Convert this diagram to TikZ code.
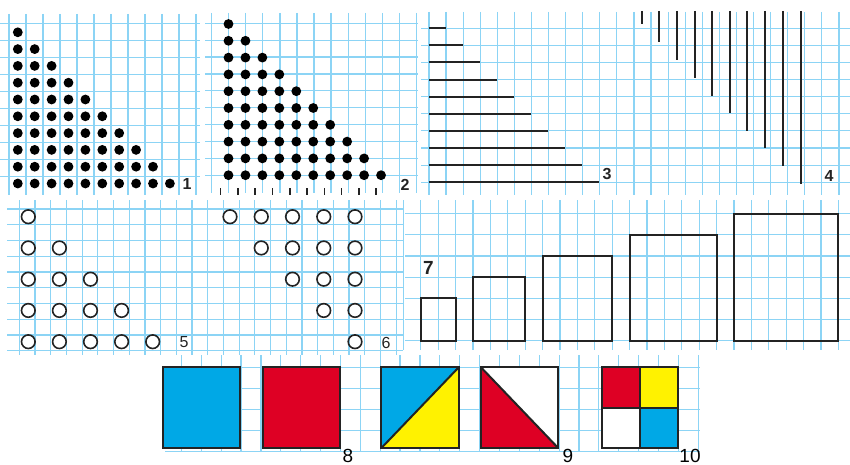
\documentclass[tikz,border=0pt]{standalone}
\usepackage{fontspec}
\setmainfont{Liberation Sans}
\definecolor{gridblue}{RGB}{140,212,245}
\definecolor{ink}{RGB}{35,35,35}
\definecolor{fillblue}{RGB}{0,168,230}
\definecolor{fillred}{RGB}{222,0,36}
\definecolor{fillyellow}{RGB}{255,242,0}
\begin{document}
\begin{tikzpicture}[x=1pt,y=-1pt,
  gridline/.style={draw=gridblue,line width=1.2pt},
  bar/.style={draw=ink,line width=2pt},
  tick/.style={draw=ink,line width=1.6pt},
  ring/.style={draw=ink,line width=1.6pt},
  frame/.style={draw=ink,line width=2pt,line join=miter},
  labb/.style={font=\fontsize{16}{16}\selectfont\bfseries,text=ink,inner sep=0pt},
  labr/.style={font=\fontsize{16}{16}\selectfont,text=ink,inner sep=0pt},
  labbig/.style={font=\fontsize{19}{19}\selectfont,text=black,inner sep=0pt}]
\useasboundingbox (0,0) rectangle (850,465);

% ---------- panel 1 ----------
\foreach \k in {0,...,11} \draw[gridline] ({9+17*\k},14) -- ({9+17*\k},195);
\foreach \k in {0,...,9} \draw[gridline] (0,{23.3+17*\k}) -- (200,{23.3+17*\k});
\foreach \i in {0,...,9} \foreach \j in {0,...,\i}
  \fill[black] ({17.8+16.9*\j},{32.3+16.8*\i}) circle (4.9pt);
\node[labb] (l1) at (187,184) {1};

% ---------- panel 2 ----------
\foreach \k in {0,...,12} \draw[gridline] ({211.7+17.05*\k},13) -- ({211.7+17.05*\k},193);
\foreach \k in {0,...,9} \draw[gridline] (205,{23.3+16.9*\k}) -- (418,{23.3+16.9*\k});
\foreach \i in {0,...,9} \foreach \j in {0,...,\i}
  \fill[black] ({228.5+16.95*\j},{24+16.8*\i}) circle (4.9pt);
\foreach \k in {0,...,9} \draw[tick] ({220.5+17.3*\k},188) -- ++(0,7);
\node[labb] (l2) at (405,185) {2};

% ---------- panels 3 and 4 ----------
\foreach \k in {0,...,24} \draw[gridline] ({429+17.08*\k},12) -- ({429+17.08*\k},195);
\foreach \k in {0,...,9} \draw[gridline] (421,{28.3+17.1*\k}) -- (850,{28.3+17.1*\k});
\foreach \i in {1,...,10} \draw[bar] (429,{28.3+17.08*(\i-1)}) -- ++({17.02*\i},0);
\foreach \x/\y in {642.3/24,659.3/42.3,677/60,695/78.3,712.3/95.7,729.7/113.3,747.3/130.7,765/148.3,782.7/166,800.7/184}
  \draw[bar] (\x,11) -- (\x,\y);
\node[labb] (l3) at (607,174.5) {3};
\node[labb] (l4) at (829,175.5) {4};

% ---------- panels 5 and 6 ----------
\foreach \k in {0,...,24} \draw[gridline] ({19.3+15.7*\k},200) -- ({19.3+15.7*\k},355);
\foreach \k in {0,...,9} \draw[gridline] (7,{209+15.75*\k}) -- (403,{209+15.75*\k});
\foreach \i in {0,...,4} \foreach \j in {0,...,\i}
  \draw[ring] ({28.3+31.1*\j},{216.7+31.25*\i}) circle (6.8pt);
\foreach \i in {0,...,4} \foreach \j in {\i,...,4}
  \draw[ring] ({230+31.25*\j},{216.7+31.25*\i}) circle (6.8pt);
\node[labr] (l5) at (184,341.7) {5};
\node[labr] (l6) at (386,342.7) {6};

% ---------- panel 7 ----------
\foreach \k in {0,...,25} \draw[gridline] ({403.3+17.4*\k},200) -- ({403.3+17.4*\k},350);
\foreach \m in {0,...,6} \draw[gridline] (405,{340.7-21.2*\m}) -- (850,{340.7-21.2*\m});
\draw[frame] (420.7,298.3) rectangle (455.5,340.7);
\draw[frame] (472.9,277.1) rectangle (525.1,340.7);
\draw[frame] (542.5,255.9) rectangle (612.1,340.7);
\draw[frame] (629.5,234.7) rectangle (716.5,340.7);
\draw[frame] (733.9,213.5) rectangle (838.3,340.7);
\node[labb,font=\fontsize{19}{19}\selectfont\bfseries] (l7) at (428.3,267.7) {7};

% ---------- bottom panel ----------
\foreach \k in {0,...,26} \draw[gridline] ({181.4+19.88*\k},355) -- ({181.4+19.88*\k},451);
\foreach \k in {0,...,4} \draw[gridline] (165,{367.5+21*\k}) -- (700,{367.5+21*\k});
\filldraw[frame,fill=fillblue] (162.5,367) rectangle (240,448);
\filldraw[frame,fill=fillred] (262.5,367) rectangle (340,448);
\fill[fillblue] (381.4,367) -- (459,367) -- (381.4,448) -- cycle;
\fill[fillyellow] (459,367) -- (459,448) -- (381.4,448) -- cycle;
\draw[frame] (381.4,448) -- (459,367);
\draw[frame] (381.4,367) rectangle (459,448);
\fill[white] (480.7,367) rectangle (558.2,448);
\fill[fillred] (480.7,367) -- (480.7,448) -- (558.2,448) -- cycle;
\draw[frame] (480.7,367) -- (558.2,448);
\draw[frame] (480.7,367) rectangle (558.2,448);
\fill[fillred] (601.8,367) rectangle (639.9,407.5);
\fill[fillyellow] (639.9,367) rectangle (678,407.5);
\fill[white] (601.8,407.5) rectangle (639.9,448);
\fill[fillblue] (639.9,407.5) rectangle (678,448);
\draw[frame] (601.8,367) rectangle (678,448);
\draw[frame] (639.9,367) -- (639.9,448);
\draw[frame] (601.8,407.5) -- (678,407.5);
\node[labbig] (l8) at (348,456) {8};
\node[labbig] (l9) at (568,456) {9};
\node[labbig] (l10) at (690,456) {10};
\end{tikzpicture}
\end{document}
